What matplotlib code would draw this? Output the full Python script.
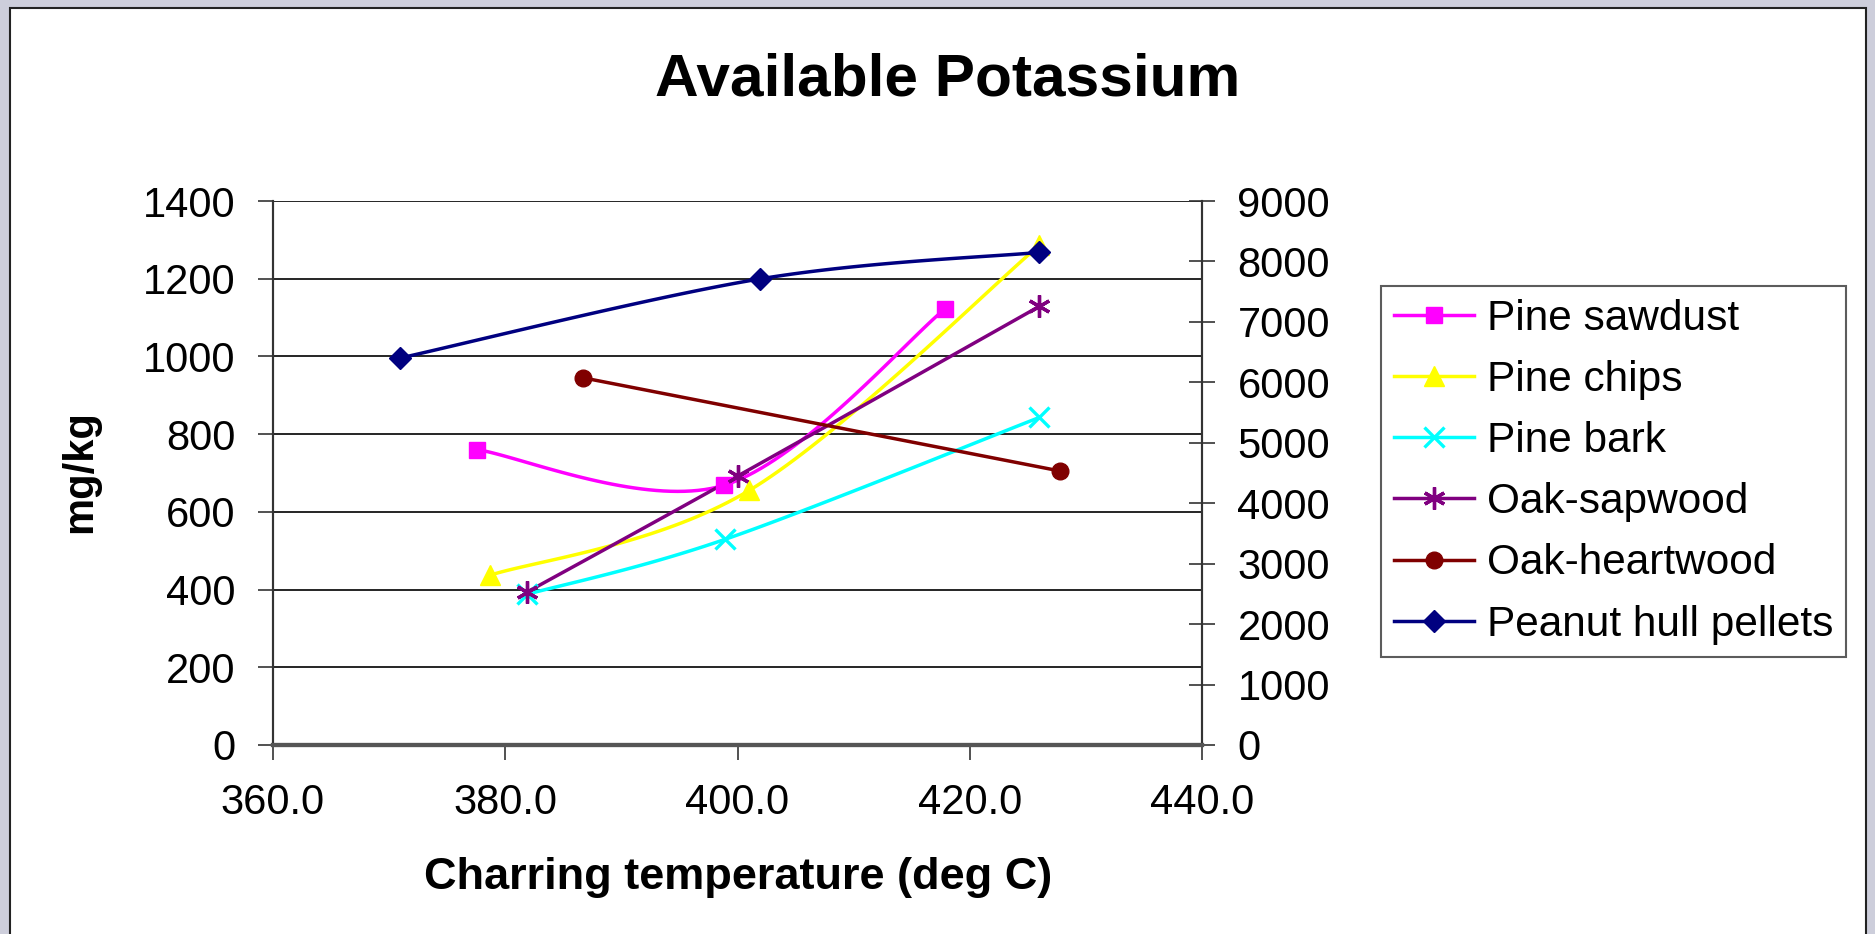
import numpy as np
import matplotlib
matplotlib.use("Agg")
import matplotlib.pyplot as plt
from matplotlib.lines import Line2D
from matplotlib.patches import Rectangle

plt.rcParams['font.family'] = ['Liberation Sans', 'DejaVu Sans']

# ---------------- data ----------------
series_names = ["Pine sawdust", "Pine chips", "Pine bark", "Oak-sapwood",
                "Oak-heartwood", "Peanut hull pellets"]

pine_sawdust_x = [377.6, 398.8, 417.9]
pine_sawdust_y = [760, 668, 1123]

pine_chips_x = [378.7, 401.0, 426.0]
pine_chips_y = [437, 655, 1286]

pine_bark_x = [381.9, 398.9, 426.0]
pine_bark_y = [388, 529, 843]

oak_sapwood_x = [381.9, 400.0, 426.0]
oak_sapwood_y = [394, 692, 1129]

oak_heartwood_x = [386.7, 427.8]
oak_heartwood_y = [945, 705]

# plotted against the secondary (right) axis
peanut_x = [370.9, 401.9, 426.0]
peanut_y = [6400, 7710, 8150]

x_ticks = [360, 380, 400, 420, 440]
left_ticks = [0, 200, 400, 600, 800, 1000, 1200, 1400]
right_ticks = [0, 1000, 2000, 3000, 4000, 5000, 6000, 7000, 8000, 9000]

# --------------- helpers ---------------
def excel_smooth(x, y, n=40):
    x = np.asarray(x, float)
    y = np.asarray(y, float)
    if len(x) < 3:
        return x, y
    px = np.concatenate([[x[0]], x, [x[-1]]])
    py = np.concatenate([[y[0]], y, [y[-1]]])
    t = np.linspace(0, 1, n)
    sx, sy = [], []
    for i in range(len(x) - 1):
        p0 = np.array([px[i], py[i]])
        p1 = np.array([px[i + 1], py[i + 1]])
        p2 = np.array([px[i + 2], py[i + 2]])
        p3 = np.array([px[i + 3], py[i + 3]])
        c1 = p1 + (p2 - p0) / 6.0
        c2 = p2 - (p3 - p1) / 6.0
        b = ((1 - t) ** 3)[:, None] * p1 + (3 * (1 - t) ** 2 * t)[:, None] * c1 \
            + (3 * (1 - t) * t ** 2)[:, None] * c2 + (t ** 3)[:, None] * p2
        if i > 0:
            b = b[1:]
        sx.append(b[:, 0])
        sy.append(b[:, 1])
    return np.concatenate(sx), np.concatenate(sy)

W, H = 1875, 934
fig = plt.figure(figsize=(W / 100, H / 100), dpi=100)
fig.patch.set_facecolor('#cdcedb')

# white chart area with dark border
fig.patches.append(Rectangle((10 / W, -0.01), (1866 - 10) / W, 1 - 8 / H + 0.01,
                             transform=fig.transFigure, facecolor='white',
                             edgecolor='#222222', linewidth=1.5, zorder=-10))

L, R, T, B = 273, 1202, 201, 745
ax = fig.add_axes([L / W, 1 - B / H, (R - L) / W, (B - T) / H])
ax.set_facecolor('white')
ax2 = ax.twinx()

lw = 2.5
styles = [
    dict(color='#FF00FF', marker='s', ms=12, mew=1),
    dict(color='#FFFF00', marker='^', ms=14, mew=1),
    dict(color='#00FFFF', marker='x', ms=14, mew=2.4),
    dict(color='#800080', marker=(6, 2, 0), ms=16, mew=2.4),
    dict(color='#800000', marker='o', ms=12, mew=1),
    dict(color='#000080', marker='D', ms=11, mew=1),
]

data = [(pine_sawdust_x, pine_sawdust_y, ax),
        (pine_chips_x, pine_chips_y, ax),
        (pine_bark_x, pine_bark_y, ax),
        (oak_sapwood_x, oak_sapwood_y, ax),
        (oak_heartwood_x, oak_heartwood_y, ax),
        (peanut_x, peanut_y, ax2)]

handles = []
for (xs, ys, a), st, name in zip(data, styles, series_names):
    sx, sy = excel_smooth(xs, ys)
    a.plot(sx, sy, color=st['color'], lw=lw, solid_capstyle='round', zorder=3)
    a.plot(xs, ys, ls='none', marker=st['marker'], ms=st['ms'],
           color=st['color'], mec=st['color'], mfc=st['color'],
           mew=st['mew'], zorder=4)
    handles.append(Line2D([], [], color=st['color'], lw=lw,
                          marker=st['marker'], ms=st['ms'],
                          mec=st['color'], mfc=st['color'], mew=st['mew']))

# axes setup
ax.set_xlim(360, 440)
ax.set_ylim(0, 1400)
ax2.set_ylim(0, 9000)
ax.set_xticks(x_ticks)
ax.set_xticklabels([f"{v:.1f}" for v in x_ticks])
ax.set_yticks(left_ticks)
ax.set_yticklabels([str(v) for v in left_ticks])
ax2.set_yticks(right_ticks)
ax2.set_yticklabels([str(v) for v in right_ticks])

ax.yaxis.grid(True, color='black', lw=1.2)
ax.set_axisbelow(True)

fs = 30
ax.tick_params(axis='y', direction='out', length=11, width=1.2,
               labelsize=fs, pad=16, color='#333333')
ax.tick_params(axis='x', direction='out', length=11, width=1.2,
               labelsize=fs, pad=16, color='#333333')
ax2.tick_params(axis='y', direction='inout', length=19, width=1.2,
                labelsize=fs, pad=16, color='#333333')

for a in (ax, ax2):
    a.spines['top'].set_visible(False)
    a.spines['left'].set_color('#333333')
    a.spines['left'].set_linewidth(1.5)
    a.spines['right'].set_color('#333333')
    a.spines['right'].set_linewidth(1.5)
    a.spines['bottom'].set_color('#555555')
    a.spines['bottom'].set_linewidth(3)

# texts
fig.text(948 / W, 1 - 80 / H, "Available Potassium", ha='center', va='center',
         fontsize=43.5, fontweight='bold')
fig.text(738 / W, 1 - 877 / H, "Charring temperature (deg C)", ha='center',
         va='center', fontsize=32.5, fontweight='bold')
fig.text(80 / W, 1 - 472 / H, "mg/kg", ha='center', va='center',
         fontsize=30, fontweight='bold', rotation=90)

leg = fig.legend(handles, series_names, loc='upper left',
                 bbox_to_anchor=(1381 / W, 1 - 286 / H),
                 bbox_transform=fig.transFigure,
                 fontsize=30.5, frameon=True, fancybox=False,
                 edgecolor='#333333', borderpad=0.3, labelspacing=0.5,
                 handlelength=1.9, handletextpad=0.3, borderaxespad=0,
                 markerscale=1.0)
leg.get_frame().set_linewidth(1.5)

fig.savefig("out.png", dpi=100, facecolor=fig.get_facecolor())
